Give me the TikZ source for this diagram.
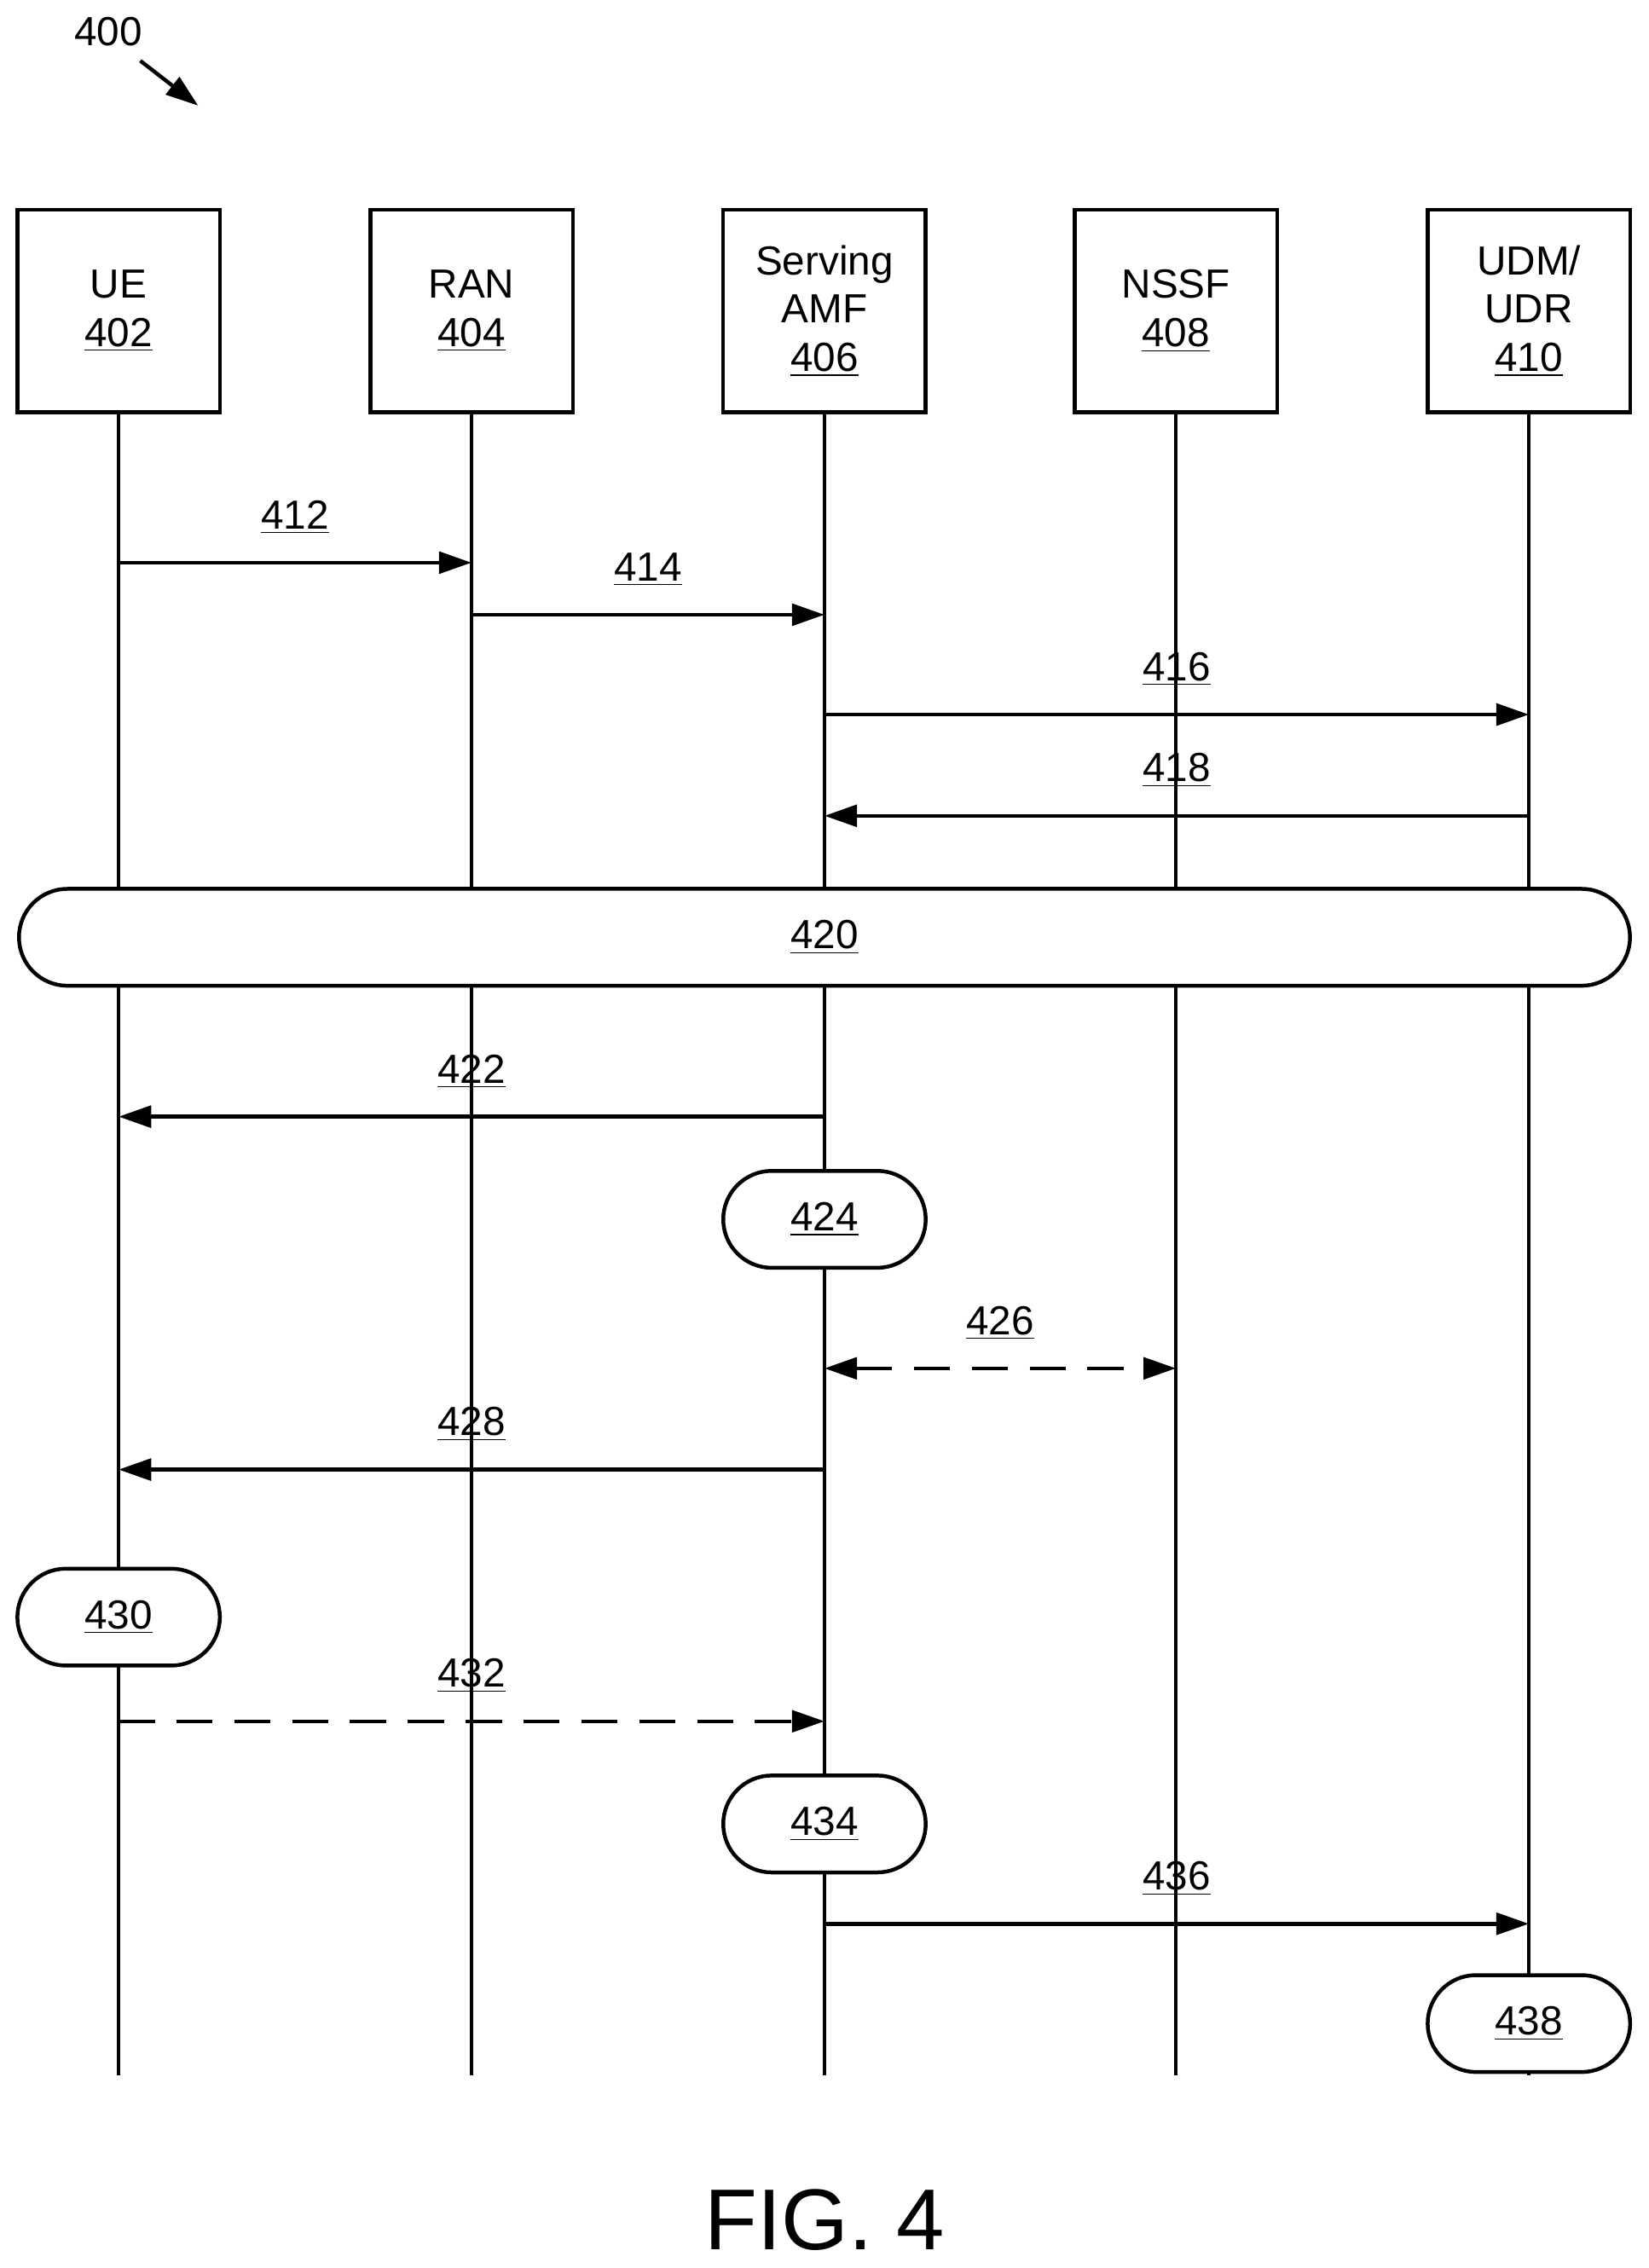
\documentclass[tikz,border=0pt]{standalone}
\usepackage{fontspec}
\setmainfont{Liberation Sans}
\usetikzlibrary{positioning,arrows.meta}

\begin{document}
\begin{tikzpicture}[x=0.02cm,y=-0.02cm,line width=1.5pt,
   every node/.style={font=\fontsize{16}{19}\selectfont,align=center},
   ent/.style={draw,shape=rectangle,minimum width=2.8cm,minimum height=2.8cm,line width=1.5pt},
   proc/.style={draw,fill=white,rounded corners=0.67cm,minimum width=2.8cm,minimum height=1.34cm,line width=1.5pt},
   msg/.style={-{Triangle[length=0.45cm,width=0.3cm]}},
   lbl/.style={above=0.25cm}]
   \useasboundingbox (0,0) rectangle (1140,1568);
   % entities
   \node[ent] (UE)   at (82,215)   {UE\\\underline{402}} ;
   \node[ent] (RAN)  at (326,215)  {RAN\\\underline{404}} ;
   \node[ent] (AMF)  at (570,215)  {Serving\\AMF\\\underline{406}} ;
   \node[ent] (NSSF) at (813,215)  {NSSF\\\underline{408}} ;
   \node[ent] (UDM)  at (1057,215) {UDM/\\UDR\\\underline{410}} ;
   \foreach \n/\x in {UE/82,RAN/326,AMF/570,NSSF/813,UDM/1057} {
      \coordinate (\n 0) at (\x,1435);
      \draw (\n.south) -- (\n 0);
   }
   % messages
   \coordinate (a1) at (82,389);  \coordinate (b1) at (326,389);
   \draw[msg] (a1) -- node[lbl] {\underline{412}} (b1);
   \coordinate (a2) at (326,425); \coordinate (b2) at (570,425);
   \draw[msg] (a2) -- node[lbl] {\underline{414}} (b2);
   \coordinate (a3) at (570,494); \coordinate (b3) at (1057,494);
   \draw[msg] (a3) -- node[lbl] {\underline{416}} (b3);
   \coordinate (a4) at (1057,564); \coordinate (b4) at (570,564);
   \draw[msg] (a4) -- node[lbl] {\underline{418}} (b4);
   \node[proc,minimum width=22.28cm] (S420) at (570,648) {\underline{420}} ;
   \coordinate (a5) at (570,772); \coordinate (b5) at (82,772);
   \draw[msg] (a5) -- node[lbl] {\underline{422}} (b5);
   \node[proc] (S424) at (570,843) {\underline{424}} ;
   \coordinate (a6) at (570,946); \coordinate (b6) at (813,946);
   \draw[{Triangle[length=0.45cm,width=0.3cm]}-{Triangle[length=0.45cm,width=0.3cm]},dash pattern=on 0.5cm off 0.3cm] (a6) -- node[lbl] {\underline{426}} (b6);
   \coordinate (a7) at (570,1016); \coordinate (b7) at (82,1016);
   \draw[msg] (a7) -- node[lbl] {\underline{428}} (b7);
   \node[proc] (S430) at (82,1118) {\underline{430}} ;
   \coordinate (a8) at (82,1190); \coordinate (b8) at (570,1190);
   \draw[msg,dash pattern=on 0.5cm off 0.3cm] (a8) -- node[lbl] {\underline{432}} (b8);
   \node[proc] (S434) at (570,1261) {\underline{434}} ;
   \coordinate (a9) at (570,1330); \coordinate (b9) at (1057,1330);
   \draw[msg] (a9) -- node[lbl] {\underline{436}} (b9);
   \node[proc] (S438) at (1057,1399) {\underline{438}} ;
   % figure labels
   \node (num) at (75,22) {400} ;
   \coordinate (p1) at (97,42); \coordinate (p2) at (137,73);
   \draw[msg] (p1) -- (p2);
   \node[font=\fontsize{34}{38}\selectfont] (fig) at (570,1535) {FIG. 4} ;
\end{tikzpicture}
\end{document}
